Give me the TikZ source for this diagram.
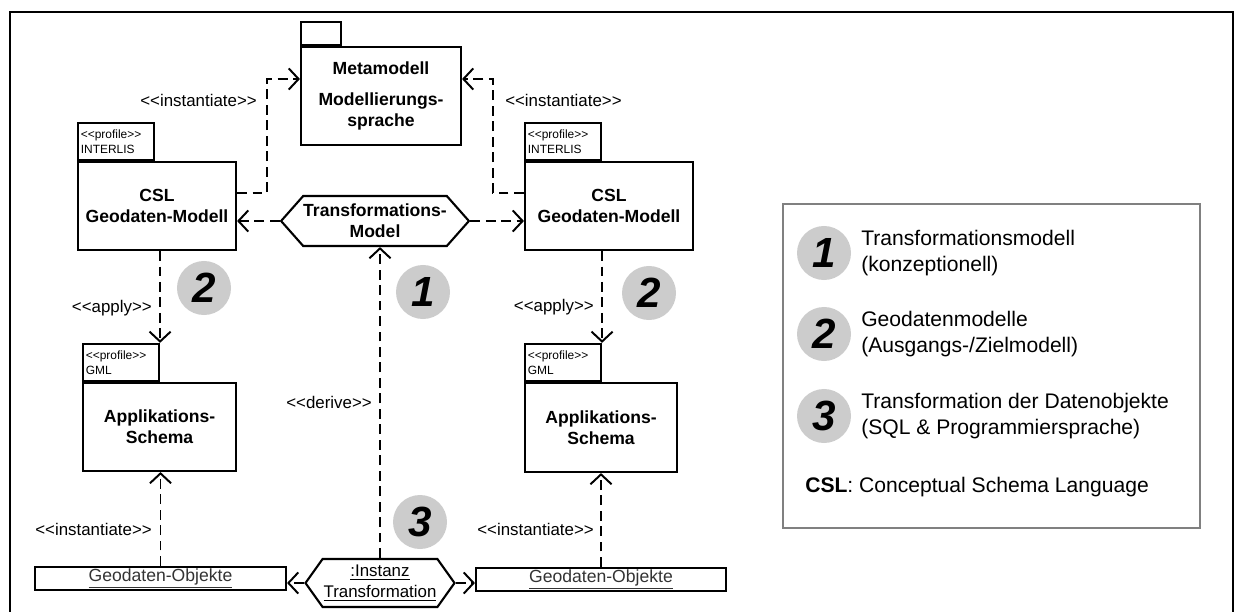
\documentclass[tikz,border=0pt]{standalone}
\usepackage{fontspec}
\setmainfont{Liberation Sans}[Ligatures=TeXOff]
\usetikzlibrary{fit}
\usetikzlibrary{calc}
\usetikzlibrary{positioning}
\usetikzlibrary{arrows.meta}
\usetikzlibrary{shapes}

\begin{document}
\begin{tikzpicture}[
  x=0.025cm, y=-0.025cm,
  package/.style={draw, rectangle, line width=1.5pt, inner sep=0pt},
  pkgtab/.style={draw, rectangle, line width=1.5pt, anchor=south west, inner sep=2pt,
    minimum width=1.9cm, text width=1.9cm-4pt, minimum height=0.925cm, align=left,
    font=\fontsize{8.5}{10.5}\selectfont},
  hexa/.style={draw, signal, signal to=east and west, line width=1.5pt, inner sep=0pt, align=center},
  object/.style={draw, rectangle, line width=1.5pt, inner sep=0pt},
  dep/.style={dash pattern=on 7pt off 4pt, line width=1.4pt, -{Straight Barb[length=7pt,width=15pt]}},
  stereo/.style={inner sep=0pt, font=\fontsize{12}{14}\selectfont},
  num/.style={circle, fill=black!20, minimum size=1.35cm, inner sep=0pt, font=\fontsize{30}{30}\selectfont\bfseries\itshape},
  bold/.style={align=center, font=\bfseries\fontsize{12.5}{15}\selectfont},
]
\useasboundingbox (0,0) rectangle (1240,611);

\draw[line width=2pt] (10,620) -- (10,12) -- (1233,12) -- (1233,620);

\node (meta) [package, fit={(301,47) (461,145)},
  label={[bold]center:{Metamodell\\[7pt]Modellierungs-\\sprache}}] {};
\node (metatab) [package, minimum width=1cm, minimum height=0.575cm, anchor=south west] at (meta.north west) {};

\node (csll) [package, fit={(78,162) (236,250)}, label={[bold]center:{CSL\\Geodaten-Modell}}] {};
\node (cslltab) [pkgtab] at (csll.north west) {<<profile>>\\INTERLIS};
\node (cslr) [package, fit={(525,162) (693,250)}, label={[bold]center:{CSL\\Geodaten-Modell}}] {};
\node (cslrtab) [pkgtab] at (cslr.north west) {<<profile>>\\INTERLIS};

\node (appl) [package, fit={(83,383) (236,471)}, label={[bold]center:{Applikations-\\Schema}}] {};
\node (appltab) [pkgtab] at (appl.north west) {<<profile>>\\GML};
\node (appr) [package, fit={(525,383) (677,472)}, label={[bold]center:{Applikations-\\Schema}}] {};
\node (apprtab) [pkgtab] at (appr.north west) {<<profile>>\\GML};

\node (transm) [hexa, bold, minimum width=4.375cm, minimum height=1.25cm, signal pointer angle=97]
  at (375,221) {Transformations-\\Model};
\node (instanz) [hexa, minimum width=3.725cm, minimum height=1.2cm, signal pointer angle=109,
  font=\fontsize{12}{15}\selectfont] at (380,583) {\underline{:Instanz}\\\underline{Transformation}};

\node (objl) [object, fit={(35,567) (286,590)},
  label={[font=\fontsize{12.5}{15}\selectfont, black!80]center:\underline{Geodaten-Objekte}}] {};
\node (objr) [object, fit={(476,568) (726,591)},
  label={[font=\fontsize{12.5}{15}\selectfont, black!80]center:\underline{Geodaten-Objekte}}] {};

\draw[dep] (transm.west) -- (csll.east |- transm.west);
\draw[dep] (transm.east) -- (cslr.west |- transm.east);
\draw[dep] (csll.east |- 0,193) -- (267,193) |- (meta.west |- 0,79);
\draw[dep] (cslr.west |- 0,193) -- (493,193) |- (meta.east |- 0,79);
\draw[dep] (csll.south -| appltab.north east) -- (appltab.north east);
\draw[dep] (cslr.south -| apprtab.north east) -- (apprtab.north east);
\draw[dep] (objl.north) -- (objl.north |- appl.south);
\draw[dep] (objr.north) -- (objr.north |- appr.south);
\draw[dep] (instanz.north) -- (instanz.north |- transm.south);
\draw[dep] (instanz.west) -- (objl.east |- instanz.west);
\draw[dep] (instanz.east) -- (objr.west |- instanz.east);

\node (st1) [stereo, anchor=east] at (257,100) {<<instantiate>>};
\node (st2) [stereo, anchor=west] at (505,100) {<<instantiate>>};
\node (st3) [stereo, anchor=east] at (152,308) {<<apply>>};
\node (st4) [stereo, anchor=east] at (594,307) {<<apply>>};
\node (st5) [stereo, anchor=east] at (372,402) {<<derive>>};
\node (st6) [stereo, anchor=east] at (152,529) {<<instantiate>>};
\node (st7) [stereo, anchor=east] at (594,529) {<<instantiate>>};

\node (num2l) [num] at (204,288) {2};
\node (num2r) [num] at (649,293) {2};
\node (num1) [num] at (423,292) {1};
\node (num3) [num] at (420,522) {3};

\node (legend) [draw=black!50, line width=1.5pt, inner sep=0pt, fit={(783,204) (1200,528)}] {};
\foreach \n/\yy/\la/\lb in {1/253/Transformationsmodell/(konzeptionell),
    2/334/Geodatenmodelle/{(Ausgangs-/Zielmodell)},
    3/416/Transformation der Datenobjekte/(SQL \& Programmiersprache)} {
  \node (leg\n) [num] at (824,\yy) {\n};
  \node (legtxt\n) [anchor=west, align=left, inner sep=0pt, font=\fontsize{15}{18}\selectfont]
    at (861,\yy) {\la\\\lb};
}
\node (csldef) [anchor=west, inner sep=0pt, font=\fontsize{15}{18}\selectfont]
  at (805,487) {\textbf{CSL}: Conceptual Schema Language};
\end{tikzpicture}
\end{document}
